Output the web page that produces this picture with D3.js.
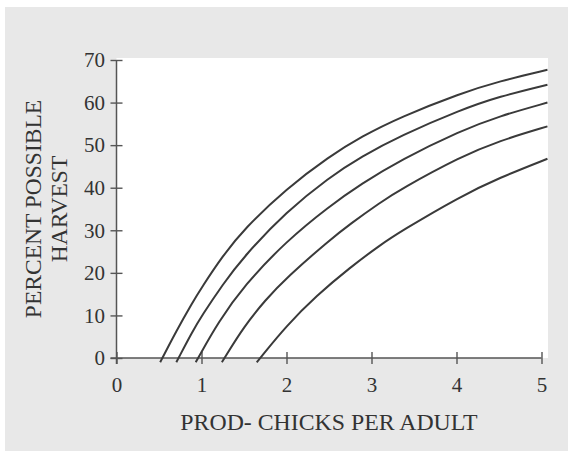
<!DOCTYPE html>
<html>
<head>
<meta charset="utf-8">
<script src="https://cdn.jsdelivr.net/npm/d3@7"></script>
<style>
  body { margin: 0; background: #fff; }
  svg { display: block; }
  text { font-family: "Liberation Serif", "DejaVu Serif", serif; fill: #333; }
</style>
</head>
<body>
<div id="chart"></div>
<script>
// five harvest curves, [chicks per adult, percent possible harvest]
const curve1 = [[0.514, -1], [0.54, 0], [0.7, 6.2], [0.89, 12.9], [1.0, 16.5], [1.25, 24.0], [1.5, 30.3], [2.0, 39.8], [2.5, 47.3], [2.88, 52.0], [3.34, 56.6], [4.05, 62.2], [4.5, 65.0], [5.07, 67.7]];
const curve2 = [[0.704, -1], [0.73, 0], [0.89, 6.1], [1.0, 9.8], [1.25, 17.3], [1.5, 23.9], [2.0, 34.4], [2.5, 42.4], [2.88, 47.3], [3.34, 52.2], [4.05, 58.3], [4.5, 61.4], [5.07, 64.2]];
const curve3 = [[0.932, -1], [0.96, 0], [1.2, 8.5], [1.5, 17.0], [2.0, 27.5], [2.5, 35.6], [2.88, 40.9], [3.34, 46.5], [4.05, 53.4], [4.5, 56.8], [5.07, 60.0]];
const curve4 = [[1.24, -1], [1.27, 0], [1.5, 7.4], [1.75, 13.6], [2.0, 18.85], [2.5, 27.6], [2.75, 31.5], [3.1, 36.5], [3.34, 39.6], [4.05, 47.3], [4.5, 51.0], [5.07, 54.4]];
const curve5 = [[1.65, -1], [1.69, 0], [2.0, 7.6], [2.35, 14.6], [2.75, 21.3], [3.1, 26.5], [3.34, 29.7], [4.05, 38.0], [4.5, 42.3], [5.07, 46.8]];
const curves = [curve1, curve2, curve3, curve4, curve5];

const xTicks = [0, 1, 2, 3, 4, 5];
const yTicks = [0, 10, 20, 30, 40, 50, 60, 70];
const xTitle = "PROD- CHICKS PER ADULT";
const yTitle = ["PERCENT POSSIBLE", "HARVEST"];

const width = 568;
const height = 451;

const svg = d3
  .select("#chart")
  .append("svg")
  .attr("width", width)
  .attr("height", height);

// scanned page tone
svg.append("rect")
  .attr("x", 5).attr("y", 7)
  .attr("width", width - 5).attr("height", height - 7)
  .attr("fill", "#e8e8e8");

const x = d3.scaleLinear().domain([0, 5]).range([116.5, 541.5]);
const y = d3.scaleLinear().domain([0, 70]).range([358, 60]);

svg.append("rect")
  .attr("x", x(0)).attr("y", y(70) - 2)
  .attr("width", 548 - x(0)).attr("height", y(0) - y(70) + 2)
  .attr("fill", "#fff");

const axisColor = "#555";

// y axis
const yAxis = svg.append("g")
  .attr("transform", `translate(${x(0)},0)`)
  .call(d3.axisLeft(y).tickValues(yTicks).tickSize(6).tickPadding(5.5).tickSizeOuter(0));
yAxis.select(".domain").remove();
yAxis.selectAll(".tick line").attr("x1", 6).attr("stroke", axisColor).attr("stroke-width", 1.4);
yAxis.selectAll(".tick text").style("font-size", "21px").attr("fill", "#333");
svg.append("line")
  .attr("x1", x(0)).attr("x2", x(0))
  .attr("y1", y(70)).attr("y2", y(0) + 6)
  .attr("stroke", axisColor).attr("stroke-width", 1.5);

// x axis
const xAxis = svg.append("g")
  .attr("transform", `translate(0,${y(0)})`)
  .call(d3.axisBottom(x).tickValues(xTicks).tickFormat(d3.format("d")).tickSize(6).tickPadding(13.5).tickSizeOuter(0));
xAxis.select(".domain").remove();
xAxis.selectAll(".tick line").attr("y1", -6).attr("stroke", axisColor).attr("stroke-width", 1.4);
xAxis.selectAll(".tick text").style("font-size", "21px").attr("fill", "#333");
svg.append("line")
  .attr("x1", x(0) - 6).attr("x2", x(5))
  .attr("y1", y(0)).attr("y2", y(0))
  .attr("stroke", axisColor).attr("stroke-width", 1.5);

// curves
const line = d3.line()
  .x((d) => x(d[0]))
  .y((d) => y(d[1]))
  .curve(d3.curveBasis);

svg.selectAll(".curve")
  .data(curves)
  .join("path")
  .attr("class", "curve")
  .attr("d", line)
  .attr("fill", "none")
  .attr("stroke", "#3a3a3a")
  .attr("stroke-width", 2);

// titles
svg.append("text")
  .attr("x", (x(0) + x(5)) / 2)
  .attr("y", 429.5)
  .attr("text-anchor", "middle")
  .style("font-size", "23.8px")
  .text(xTitle);

const yMid = (y(0) + y(70)) / 2;
svg.selectAll(".ytitle")
  .data(yTitle)
  .join("text")
  .attr("class", "ytitle")
  .attr("transform", (d, i) => `translate(${40.7 + i * 26},${yMid}) rotate(-90)`)
  .attr("text-anchor", "middle")
  .style("font-size", "23.5px")
  .text((d) => d);
</script>
</body>
</html>
